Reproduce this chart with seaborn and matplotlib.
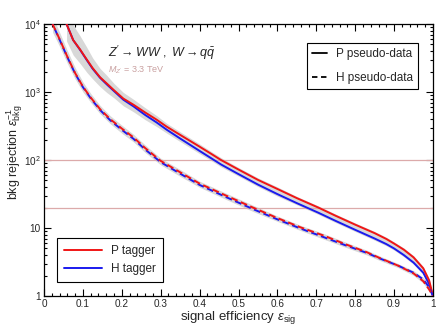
import pandas as pd
import matplotlib.pyplot as plt
import seaborn as sns
import numpy as np
from matplotlib.lines import Line2D
from matplotlib.ticker import LogLocator, NullFormatter, FixedLocator, FixedFormatter, MultipleLocator

# Values
# solid curves = P pseudo-data
eff_p = [0.058, 0.075, 0.093, 0.11, 0.125, 0.144, 0.161, 0.18, 0.204, 0.23, 0.26, 0.29,
         0.315, 0.35, 0.4, 0.43, 0.455, 0.5, 0.55, 0.6, 0.65, 0.705, 0.75, 0.8, 0.85,
         0.88, 0.9, 0.925, 0.95, 0.975, 0.99, 1.0]
rej_p_ptag = [10000, 5800, 4200, 3000, 2250, 1650, 1340, 1060, 800, 650, 500, 390,
              310, 234, 157, 123, 100, 72.4, 51, 37.5, 27.5, 20, 15.1, 11.2, 8.4,
              6.9, 5.9, 4.8, 3.7, 2.55, 1.7, 1.0]
rej_p_htag = [10000, 5800, 4150, 2950, 2200, 1620, 1300, 1030, 770, 615, 460, 355,
              280, 207, 136, 106, 86, 62, 43.5, 31.5, 23.2, 16.8, 12.7, 9.4, 7.0,
              5.8, 5.0, 4.0, 3.1, 2.2, 1.5, 1.0]
band_p = [0.25, 0.22, 0.2, 0.18, 0.15, 0.13, 0.12, 0.1, 0.09, 0.08, 0.07, 0.06,
          0.05, 0.045, 0.04, 0.035, 0.035, 0.03, 0.03, 0.03, 0.025, 0.025, 0.025, 0.025, 0.025,
          0.025, 0.025, 0.025, 0.025, 0.025, 0.025, 0.025]

# dashed curves = H pseudo-data
eff_h = [0.022, 0.04, 0.06, 0.08, 0.1, 0.12, 0.144, 0.17, 0.2, 0.23, 0.26, 0.3, 0.35,
         0.4, 0.465, 0.537, 0.6, 0.66, 0.72, 0.774, 0.83, 0.864, 0.91, 0.95, 0.975, 0.99, 1.0]
rej_h_ptag = [10000, 6000, 3300, 1900, 1200, 830, 560, 400, 290, 215, 150, 97, 66,
              45, 30.5, 20, 14, 10.2, 7.7, 5.8, 4.4, 3.6, 2.8, 2.15, 1.65, 1.25, 1.0]
rej_h_htag = [10000, 5900, 3250, 1870, 1180, 810, 545, 385, 278, 205, 143, 93, 63,
              43, 29, 19, 13.4, 9.8, 7.3, 5.6, 4.3, 3.55, 2.8, 2.2, 1.75, 1.35, 1.0]
band_h = [0.12, 0.1, 0.09, 0.08, 0.07, 0.06, 0.055, 0.05, 0.05, 0.045, 0.045, 0.04, 0.04,
          0.035, 0.035, 0.035, 0.03, 0.03, 0.03, 0.03, 0.03, 0.03, 0.03, 0.03, 0.03, 0.03, 0.03]

ref_lines = [100, 20]

taggers = ["P tagger", "H tagger"]
pseudo = ["P pseudo-data", "H pseudo-data"]
colors = {"P tagger": "#f01515", "H tagger": "#1a1aee"}

sns.set_style("ticks")
plt.rcParams["font.family"] = ["Liberation Sans", "DejaVu Sans"]
plt.rcParams["mathtext.fontset"] = "custom"
plt.rcParams["mathtext.rm"] = "Liberation Sans"
plt.rcParams["mathtext.it"] = "Liberation Sans:italic"

fig = plt.figure(figsize=(4.36, 3.29), dpi=100)
ax = fig.add_axes([44 / 436, 33 / 329, 389 / 436, 272 / 329])

# grey uncertainty bands
lo = np.array(rej_p_htag) * 10 ** (-np.array(band_p))
hi = np.array(rej_p_ptag) * 10 ** np.array(band_p)
ax.fill_between(eff_p, lo, hi, color="#d8d8d8", lw=0, zorder=1)
lo = np.minimum(rej_h_htag, rej_h_ptag) * 10 ** (-np.array(band_h))
hi = np.maximum(rej_h_htag, rej_h_ptag) * 10 ** np.array(band_h)
ax.fill_between(eff_h, lo, hi, color="#d8d8d8", lw=0, zorder=1)

for y in ref_lines:
    ax.axhline(y, color="#dcaaaa", lw=0.9, zorder=1.5)

# curves: (x, y, tagger, linestyle)
curves = [(eff_p, rej_p_htag, "H tagger", "-"),
          (eff_p, rej_p_ptag, "P tagger", "-"),
          (eff_h, rej_h_htag, "H tagger", (2.6, (3.5, 1.8))),
          (eff_h, rej_h_ptag, "P tagger", (0, (3.5, 1.8)))]
for x, y, tag, ls in curves:
    d = pd.DataFrame({"eff": x, "rej": y})
    sns.lineplot(data=d, x="eff", y="rej", color=colors[tag], lw=1.4,
                 estimator=None, sort=False, ax=ax, zorder=3)
    ax.get_lines()[-1].set_linestyle(ls)

ax.set_yscale("log")
ax.set_xlim(0, 1)
ax.set_ylim(1, 1e4)

ax.xaxis.set_major_locator(FixedLocator(np.linspace(0, 1, 11)))
ax.xaxis.set_major_formatter(FixedFormatter(["0", "0.1", "0.2", "0.3", "0.4", "0.5",
                                             "0.6", "0.7", "0.8", "0.9", "1"]))
ax.xaxis.set_minor_locator(MultipleLocator(0.02))
ax.yaxis.set_major_locator(FixedLocator([1, 10, 100, 1000, 10000]))
ax.yaxis.set_major_formatter(FixedFormatter(["1", "10", "$10^{2}$", "$10^{3}$", "$10^{4}$"]))
ax.yaxis.set_minor_locator(LogLocator(base=10, subs=np.arange(2, 10)))
ax.yaxis.set_minor_formatter(NullFormatter())

ax.tick_params(which="both", direction="in", top=True, right=True, labelsize=7.2,
               width=0.8, color="black", pad=2.5)
ax.tick_params(which="major", length=5)
ax.tick_params(which="minor", length=2.5)
for s in ax.spines.values():
    s.set_linewidth(0.9)
    s.set_color("black")

ax.set_xlabel(r"signal efficiency $\varepsilon_{\rm sig}$", fontsize=9.5, labelpad=0)
ax.set_ylabel(r"bkg rejection $\varepsilon_{\rm bkg}^{-1}$", fontsize=9)
ax.yaxis.set_label_coords(-0.05, 0.528)

ax.text(0.165, 0.895, r"$Z^{\prime}\rightarrow WW\ ,\ W\rightarrow q\bar{q}$",
        transform=ax.transAxes, fontsize=9, ha="left", va="center")
ax.text(0.165, 0.83, r"$M_{Z^{\prime}}$ = 3.3 TeV", transform=ax.transAxes,
        fontsize=6.5, color="#c9a0a0", ha="left", va="center")

# legends
h1 = [Line2D([], [], color="black", lw=1.3, ls="-"),
      Line2D([], [], color="black", lw=1.3, ls=(0, (3, 2)))]
leg1 = ax.legend(h1, pseudo, loc="upper right", bbox_to_anchor=(0.961, 0.930),
                 borderaxespad=0, fontsize=8.5, handlelength=1.3, handletextpad=0.7,
                 frameon=True, fancybox=False, edgecolor="black", framealpha=1,
                 borderpad=0.45, labelspacing=1.0)
leg1.get_frame().set_linewidth(0.8)
ax.add_artist(leg1)
h2 = [Line2D([], [], color=colors[t], lw=1.4) for t in taggers]
leg2 = ax.legend(h2, taggers, loc="lower left", bbox_to_anchor=(0.0334, 0.051),
                 borderaxespad=0, fontsize=8.5, handlelength=3.2, handletextpad=0.74,
                 frameon=True, fancybox=False, edgecolor="black", framealpha=1,
                 borderpad=0.62, labelspacing=0.45)
leg2.get_frame().set_linewidth(0.8)

fig.savefig("out.png", dpi=100)
